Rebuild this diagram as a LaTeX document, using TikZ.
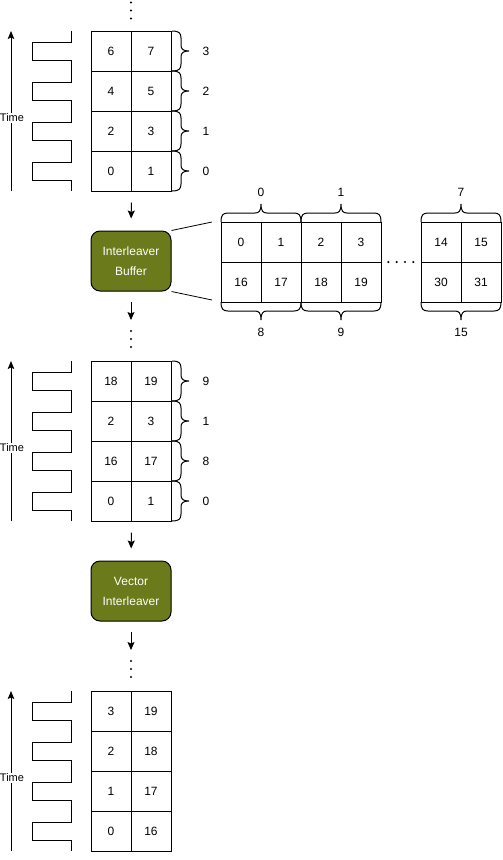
\documentclass[tikz,border=0pt]{standalone}
\usepackage{fontspec}
\setmainfont{Liberation Sans}
\usetikzlibrary{arrows.meta}
\definecolor{olivebox}{RGB}{107,122,27}
\newcommand\mybraceR[3]{% x, ytop, ybot : brace pointing right
 \pgfmathsetmacro\mybm{(#2+#3)/2}
 \draw (#1,#2) .. controls ({#1+7},#2) and ({#1+9},{#2+2}) .. ({#1+9},{#2+7})
 -- ({#1+9},{\mybm-6}) .. controls ({#1+9},{\mybm-2}) and ({#1+11},\mybm) .. ({#1+17},\mybm)
 ({#1+17},\mybm) .. controls ({#1+11},\mybm) and ({#1+9},{\mybm+2}) .. ({#1+9},{\mybm+6})
 -- ({#1+9},{#3-7}) .. controls ({#1+9},{#3-2}) and ({#1+7},#3) .. (#1,#3);
}
\newcommand\mybraceH[4]{% x0, x1, y, sign (-1 up, 1 down)
 \pgfmathsetmacro\mybm{(#1+#2)/2}
 \draw (#1,#3) .. controls (#1,{#3+7*(#4)}) and ({#1+2},{#3+9*(#4)}) .. ({#1+7},{#3+9*(#4)})
 -- ({\mybm-6},{#3+9*(#4)}) .. controls ({\mybm-2},{#3+9*(#4)}) and (\mybm,{#3+11*(#4)}) .. (\mybm,{#3+18*(#4)})
 (\mybm,{#3+18*(#4)}) .. controls (\mybm,{#3+11*(#4)}) and ({\mybm+2},{#3+9*(#4)}) .. ({\mybm+6},{#3+9*(#4)})
 -- ({#2-7},{#3+9*(#4)}) .. controls ({#2-2},{#3+9*(#4)}) and (#2,{#3+7*(#4)}) .. (#2,#3);
}
\newcommand\mywave{%
 \draw (71,31) -- (71,42) -- (32,42) -- (32,60) -- (71,60) -- (71,82) -- (32,82) -- (32,100)
 -- (71,100) -- (71,122) -- (32,122) -- (32,140) -- (71,140) -- (71,162) -- (32,162)
 -- (32,180) -- (71,180) -- (71,191);
}
\begin{document}
\begin{tikzpicture}[x=1pt,y=-1pt,line width=1pt,
 cell/.style={draw,minimum width=40pt,minimum height=40pt,inner sep=0pt,font=\fontsize{12}{14}\selectfont},
 proc/.style={draw=black,fill=olivebox,rounded corners=9pt,minimum width=80pt,minimum height=60pt,
   inner sep=0pt,text=white,align=center,font=\fontsize{12}{20}\selectfont},
 lbl/.style={font=\fontsize{12}{14}\selectfont,inner sep=0pt},
 timelbl/.style={fill=white,inner sep=1pt,font=\fontsize{11}{13}\selectfont},
 flow/.style={-{Stealth[length=8pt,width=7pt,inset=1.5pt]}},
 timearrow/.style={-{Stealth[length=8pt,width=6.5pt,inset=1.5pt]}},
 vdot/.style={circle,fill=black,draw=none,inner sep=0pt,minimum size=2.4pt}
]
\useasboundingbox (0,0) rectangle (503,860);

% ---------- top dots
\node[vdot] (d1a) at (131,2.5) {};
\node[vdot] (d1b) at (131,10.5) {};
\node[vdot] (d1c) at (131,18.5) {};

% ---------- section 1
\mywave
\coordinate (ta1) at (11,191);
\coordinate (tb1) at (11,31);
\draw[timearrow] (ta1) -- (tb1);
\node[timelbl] (time1) at (12,118) {Time};
\foreach \a/\b/\l [count=\i from 0] in {6/7/3,4/5/2,2/3/1,0/1/0}{
  \node[cell] (s1a\i) at (111,{51+40*\i}) {\a};
  \node[cell] (s1b\i) at (151,{51+40*\i}) {\b};
  \mybraceR{172}{31+40*\i}{71+40*\i}
  \node[lbl] (s1l\i) at (206,{51+40*\i}) {\l};
}

\node[proc] (ib) at (131,261) {Interleaver\\Buffer};
\draw[flow,shorten <=11pt,shorten >=12pt] (s1a3.south east) -- (ib.north);

% ---------- wide buffer
\foreach \x/\t/\u [count=\j from 0] in {241/0/16,281/1/17,321/2/18,361/3/19,441/14/30,481/15/31}{
  \node[cell] (wt\j) at (\x,242) {\t};
  \node[cell] (wb\j) at (\x,282) {\u};
}
\mybraceH{221}{301}{222}{-1}
\mybraceH{301}{381}{222}{-1}
\mybraceH{421}{501}{222}{-1}
\mybraceH{221}{301}{302}{1}
\mybraceH{301}{381}{302}{1}
\mybraceH{421}{501}{302}{1}
\node[lbl] (g0) at (261,192) {0};
\node[lbl] (g1) at (341,192) {1};
\node[lbl] (g7) at (461,192) {7};
\node[lbl] (g8) at (261,332) {8};
\node[lbl] (g9) at (341,332) {9};
\node[lbl] (g15) at (461,332) {15};
\foreach \x [count=\k] in {388.3,396.7,405,413.3}{
  \node[vdot] (hd\k) at (\x,262) {};
}
\coordinate (z1) at (212,222);
\coordinate (z2) at (212,300);
\draw[line width=0.8pt] (ib.north east) -- (z1);
\draw[line width=0.8pt] (ib.south east) -- (z2);

% arrow and dots below buffer
\coordinate (a2s) at (131,302);
\coordinate (a2e) at (131,320);
\draw[flow] (a2s) -- (a2e);
\node[vdot] (d2a) at (131,331) {};
\node[vdot] (d2b) at (131,339) {};
\node[vdot] (d2c) at (131,347) {};

% ---------- section 2
\begin{scope}[shift={(0,330)}]
\mywave
\coordinate (ta2) at (11,191);
\coordinate (tb2) at (11,31);
\draw[timearrow] (ta2) -- (tb2);
\node[timelbl] (time2) at (12,118) {Time};
\foreach \a/\b/\l [count=\i from 0] in {18/19/9,2/3/1,16/17/8,0/1/0}{
  \node[cell] (s2a\i) at (111,{51+40*\i}) {\a};
  \node[cell] (s2b\i) at (151,{51+40*\i}) {\b};
  \mybraceR{172}{31+40*\i}{71+40*\i}
  \node[lbl] (s2l\i) at (206,{51+40*\i}) {\l};
}
\end{scope}

\node[proc] (vi) at (131,591) {Vector\\Interleaver};
\draw[flow,shorten <=11pt,shorten >=12pt] (s2a3.south east) -- (vi.north);

\coordinate (a3s) at (131,632);
\coordinate (a3e) at (131,650);
\draw[flow] (a3s) -- (a3e);
\node[vdot] (d3a) at (131,661) {};
\node[vdot] (d3b) at (131,669) {};
\node[vdot] (d3c) at (131,677) {};

% ---------- section 3
\begin{scope}[shift={(0,660)}]
\mywave
\coordinate (ta3) at (11,191);
\coordinate (tb3) at (11,31);
\draw[timearrow] (ta3) -- (tb3);
\node[timelbl] (time3) at (12,118) {Time};
\foreach \a/\b [count=\i from 0] in {3/19,2/18,1/17,0/16}{
  \node[cell] (s3a\i) at (111,{51+40*\i}) {\a};
  \node[cell] (s3b\i) at (151,{51+40*\i}) {\b};
}
\end{scope}
\end{tikzpicture}
\end{document}
